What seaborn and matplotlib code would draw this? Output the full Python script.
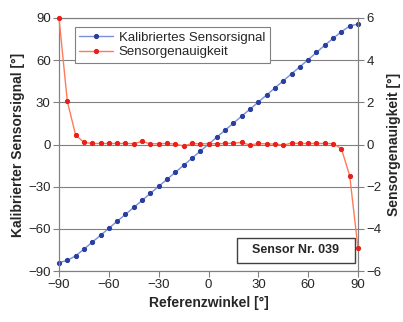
import numpy as np
import pandas as pd
import matplotlib
matplotlib.use("Agg")
import matplotlib.pyplot as plt
from matplotlib.patches import Rectangle
import seaborn as sns

sns.set_style("white")
plt.rcParams['font.family'] = ['Liberation Sans', 'DejaVu Sans']

ref_angle = [-90, -85, -80, -75, -70, -65, -60, -55, -50, -45, -40, -35, -30, -25, -20,
             -15, -10, -5, 0, 5, 10, 15, 20, 25, 30, 35, 40, 45, 50, 55, 60, 65, 70, 75,
             80, 85, 90]
calib_signal = [-84.0, -82.5, -79.2, -74.5, -69.5, -64.6, -59.6, -54.6, -49.7, -44.8, -39.8,
                -34.8, -29.8, -24.8, -19.8, -14.8, -9.8, -4.8, 0.2, 5.2, 10.2, 15.2, 20.2,
                25.2, 30.2, 35.2, 40.3, 45.3, 50.3, 55.3, 60.4, 65.5, 70.6, 75.5, 80.2,
                84.3, 85.7]
accuracy = [6.0, 2.05, 0.45, 0.1, 0.05, 0.05, 0.05, 0.05, 0.05, 0.04, 0.15, 0.03, 0.04, 0.05,
            0.02, -0.07, 0.05, 0.03, 0.04, 0.04, 0.05, 0.06, 0.1, -0.03, 0.05, 0.03, 0.02,
            -0.03, 0.07, 0.05, 0.05, 0.05, 0.05, 0.04, -0.2, -1.48, -4.92]

df = pd.DataFrame({"ref": ref_angle, "calib": calib_signal, "acc": accuracy})

fig = plt.figure(figsize=(4.03, 3.22), dpi=100)
ax = fig.add_axes([59/403, 1 - 271/322, (358-59)/403, (271-18)/322])
ax2 = ax.twinx()

blue_line = "#7a8fd8"
blue_mk = "#2a3ea0"
red_line = "#ff7a5a"
red_mk = "#e8201a"

sns.lineplot(data=df, x="ref", y="calib", ax=ax, color=blue_line, lw=1.0,
             marker="o", markersize=3.0, markerfacecolor=blue_mk, markeredgecolor=blue_mk,
             label="Kalibriertes Sensorsignal", legend=False, clip_on=False)
sns.lineplot(data=df, x="ref", y="acc", ax=ax2, color=red_line, lw=1.0,
             marker="o", markersize=3.0, markerfacecolor=red_mk, markeredgecolor=red_mk,
             label="Sensorgenauigkeit", legend=False, clip_on=False, zorder=5)

ax.set_xlim(-90, 90)
ax.set_ylim(-90, 90)
ax2.set_ylim(-6, 6)
ax.set_xticks(range(-90, 91, 30))
ax.set_yticks(range(-90, 91, 30))
ax2.set_yticks(range(-6, 7, 2))

ax.yaxis.grid(True, color="#808080", lw=0.8)
ax.set_axisbelow(True)

for a in (ax, ax2):
    for s in a.spines.values():
        s.set_color("#808080")
        s.set_linewidth(0.8)
ax.tick_params(axis="both", direction="out", length=4, color="#808080", labelsize=9.5, pad=2,
               left=True, bottom=True)
ax2.tick_params(axis="y", direction="out", length=4, color="#808080", labelsize=9.5, pad=2,
                right=True)

ax.set_xlabel("Referenzwinkel [°]", fontsize=10, fontweight="bold", labelpad=3)
ax.set_ylabel("Kalibrierter Sensorsignal [°]", fontsize=10, fontweight="bold", labelpad=2)
ax2.set_ylabel("Sensorgenauigkeit [°]", fontsize=10, fontweight="bold", labelpad=4)

h1, l1 = ax.get_legend_handles_labels()
h2, l2 = ax2.get_legend_handles_labels()
leg = ax2.legend(h1 + h2, l1 + l2, loc="upper left", bbox_to_anchor=(0.03, 0.99),
                 fontsize=9.5, frameon=True, fancybox=False, framealpha=1,
                 edgecolor="#808080", borderpad=0.35, handlelength=2.6, labelspacing=0.15,
                 handletextpad=0.4)
leg.get_frame().set_linewidth(0.8)

ax2.add_patch(Rectangle((0.595, 0.032), 0.395, 0.099, transform=ax.transAxes,
                        facecolor="white", edgecolor="#404040", lw=1.0, zorder=4))
ax2.text(0.7925, 0.0815, "Sensor Nr. 039", transform=ax.transAxes, ha="center",
         va="center", fontsize=9, fontweight="bold", zorder=4.5)

fig.savefig("out.png", dpi=100)
